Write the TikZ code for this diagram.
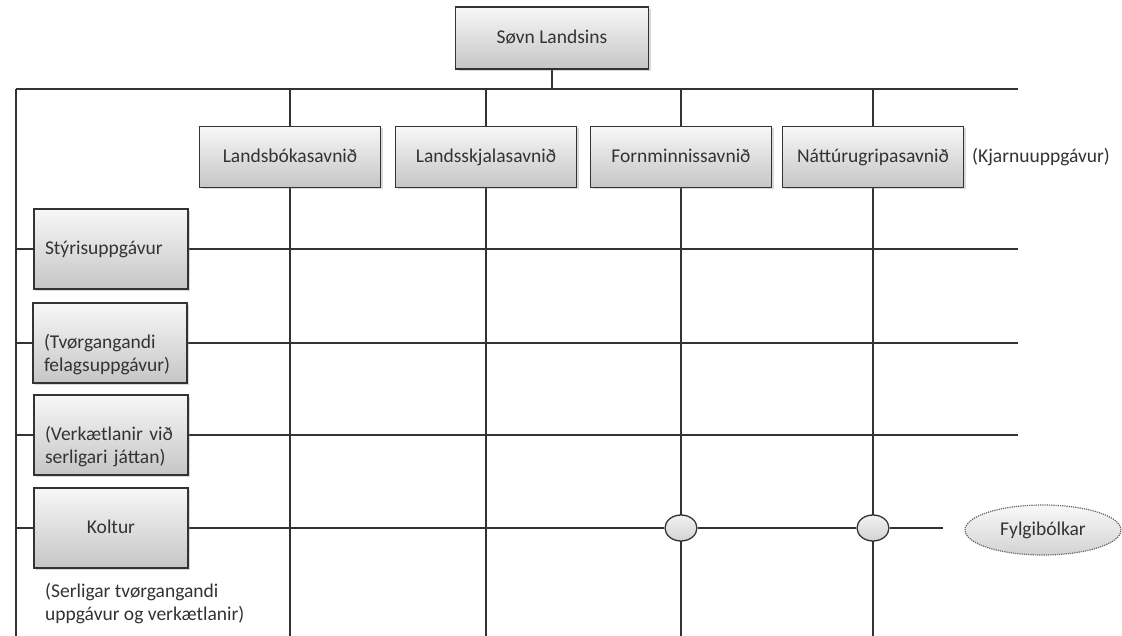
\documentclass[tikz,border=0pt]{standalone}
\usepackage{fontspec}
\setmainfont{Carlito}
\usetikzlibrary{shapes.geometric,shadows,backgrounds}

\tikzset{
  box/.style={draw=black!80, line width=1.3pt, top color=gray!6, bottom color=gray!45,
    drop shadow={shadow xshift=2pt, shadow yshift=-2pt, opacity=.3},
    font=\fontsize{19.5}{23}\selectfont, text=black!80, text height=14pt, text depth=3pt},
  unit/.style={box, minimum width=181pt, minimum height=61pt},
  task/.style={box, minimum width=154pt, minimum height=80pt, align=left,
    text width=132pt, inner sep=11pt},
  knot/.style={ellipse, draw=black!80, line width=1.3pt, top color=gray!10,
    bottom color=gray!35, minimum width=32pt, minimum height=26pt, inner sep=0pt},
  note/.style={font=\fontsize{19.5}{23}\selectfont, text=black!80, align=left, inner sep=0pt},
  grid/.style={line width=1.3pt, black!80}
}

\begin{document}
\begin{tikzpicture}[x=1pt, y=-1pt]

	\useasboundingbox (0,0) rectangle (1122,636);

	\coordinate (tl) at (16,89);
	\coordinate (tr) at (1018,89);
	\coordinate (bl) at (16,636);
	\coordinate (end) at (943,528);

	\node[box, minimum width=193pt, minimum height=62pt] (top) at (552,38) {Søvn Landsins};

	\node[unit] (lbs) at (290,157) {Landsbókasavnið};
	\node[unit] (lsk) at (486,157) {Landsskjalasavnið};
	\node[unit] (fms) at (681,157) {Fornminnissavnið};
	\node[unit] (ngs) at (873,157) {Náttúrugripasavnið};
	\node[note, anchor=west, text height=14pt, text depth=3pt] (kjarni) at (972,157) {(Kjarnuuppgávur)};

	\node[task] (styr) at (111,249) {Stýrisuppgávur};
	\node[task] (tvorg) at (110,343) {(Tvørgangandi\\felagsuppgávur)};
	\node[task] (verk) at (111,435) {(Verkætlanir við\\serligari játtan)};
	\node[task, align=center] (koltur) at (111,528) {Koltur};
	\node[note, anchor=north west] (serlig) at (45,583) {(Serligar tvørgangandi\\uppgávur og verkætlanir)};

	\node[knot] (e1) at (fms |- koltur) {};
	\node[knot] (e2) at (ngs |- koltur) {};
	\node[ellipse, draw=black!60, densely dotted, line width=1.2pt, top color=gray!5,
	  bottom color=gray!35, minimum width=156pt, minimum height=50pt,
	  font=\fontsize{19.5}{23}\selectfont, text=black!80] (fylgi) at (1043,530) {Fylgibólkar};

	\begin{scope}[on background layer]
		\draw[grid] (top) -- (top |- tl);
		\draw[grid] (tl) -- (tr);
		\draw[grid] (tl) -- (bl);
		\foreach \c in {lbs,lsk,fms,ngs}
			\draw[grid] (\c |- tl) -- (\c |- bl);
		\foreach \r in {styr,tvorg,verk}
			\draw[grid] (\r -| tl) -- (\r -| tr);
		\draw[grid] (koltur -| tl) -- (koltur) -- (e1) -- (e2) -- (end);
	\end{scope}

\end{tikzpicture}
\end{document}
